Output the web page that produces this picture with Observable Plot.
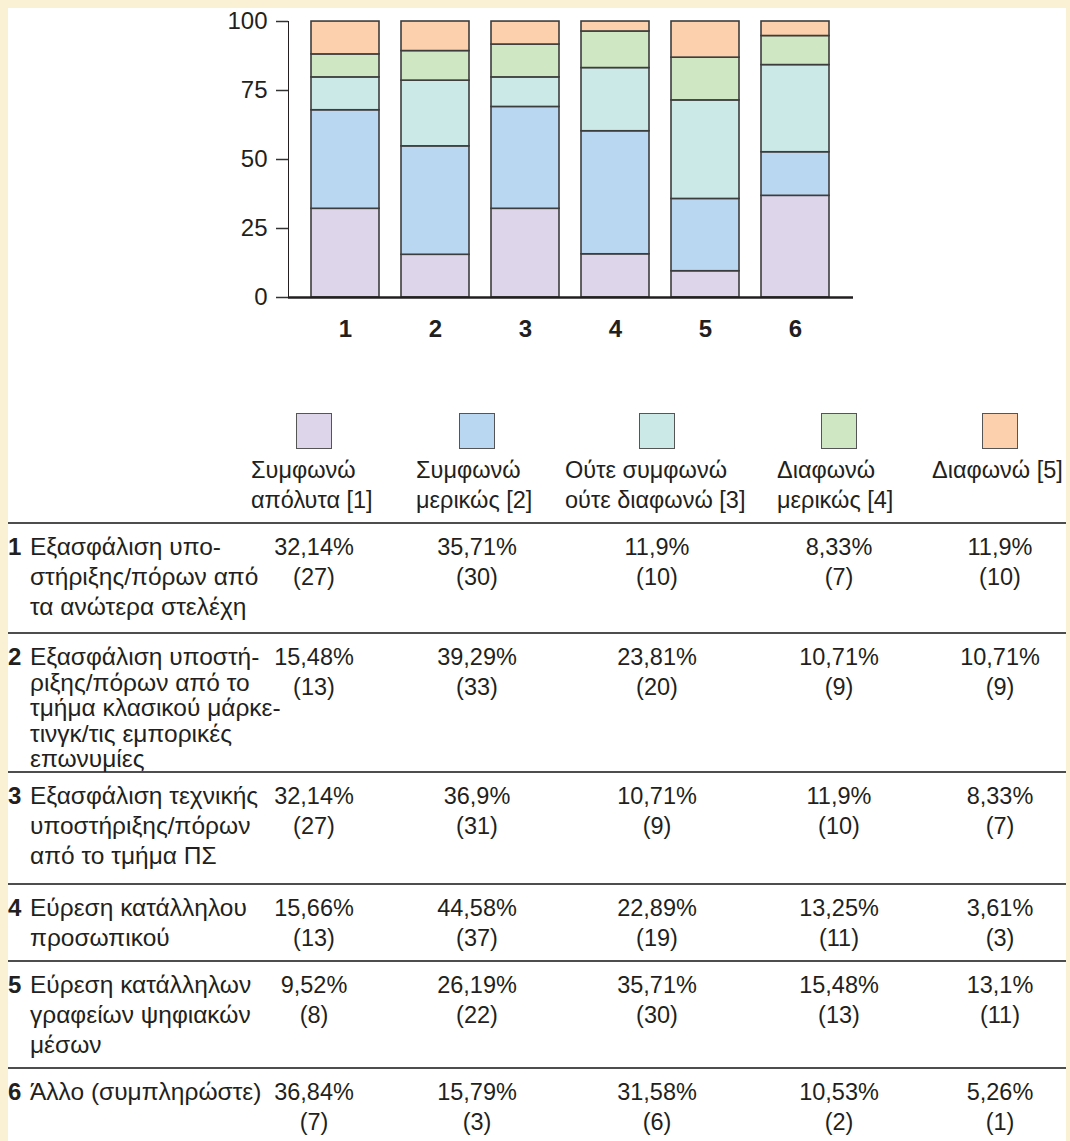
<!DOCTYPE html>
<html><head><meta charset="utf-8">
<script src="https://cdn.jsdelivr.net/npm/d3@7"></script>
<script src="https://cdn.jsdelivr.net/npm/@observablehq/plot@0.6"></script>
<style>
html,body{margin:0;padding:0;background:#faf0d3;}
body{width:1070px;height:1141px;position:relative;overflow:hidden;font-family:"Liberation Sans",Arial,sans-serif;color:#231f20;}
#card{position:absolute;left:8px;top:8px;width:1058px;height:1133px;background:#fff;}
#chart{position:absolute;left:0;top:0;}
#chart svg{overflow:visible;}
#chart g[aria-label="y-axis tick label"], #chart g[aria-label="y-axis tick label"] text{font-size:24px !important;fill:#231f20;}
#chart g[aria-label="x-axis tick label"], #chart g[aria-label="x-axis tick label"] text{font-size:24px !important;font-weight:bold;fill:#231f20;}
#chart g[aria-label="y-axis tick"]{stroke:#333;stroke-width:1.5px;}
.abs{position:absolute;white-space:pre;font-size:23.5px;line-height:30px;}
.lab{font-size:24.5px;}
.sq{position:absolute;box-sizing:border-box;border:1.5px solid #555;width:36px;height:36px;}
.sep{position:absolute;left:8px;width:1058px;height:2px;background:#4d4d4d;}
.num{font-weight:bold;font-size:24px;}
.val{text-align:center;width:160px;}
</style></head><body>
<div id="card"></div>
<div id="chart"></div>
<div id="below"></div>
<script>
// ---- data ----
const items = ["1", "2", "3", "4", "5", "6"];
const categories = ["Συμφωνώ απόλυτα [1]", "Συμφωνώ μερικώς [2]", "Ούτε συμφωνώ ούτε διαφωνώ [3]", "Διαφωνώ μερικώς [4]", "Διαφωνώ [5]"];
const categoryLines = [["Συμφωνώ", "απόλυτα [1]"], ["Συμφωνώ", "μερικώς [2]"], ["Ούτε συμφωνώ", "ούτε διαφωνώ [3]"], ["Διαφωνώ", "μερικώς [4]"], ["Διαφωνώ [5]"]];
const colors = ["#ddd5ea", "#b9d7f0", "#cae9e7", "#d0e7c3", "#fdd0ad"];
const yTicks = [0, 25, 50, 75, 100];
const itemLabels = [
  ["Εξασφάλιση υπο-", "στήριξης/πόρων από", "τα ανώτερα στελέχη"],
  ["Εξασφάλιση υποστή-", "ριξης/πόρων από το", "τμήμα κλασικού μάρκε-", "τινγκ/τις εμπορικές", "επωνυμίες"],
  ["Εξασφάλιση τεχνικής", "υποστήριξης/πόρων", "από το τμήμα ΠΣ"],
  ["Εύρεση κατάλληλου", "προσωπικού"],
  ["Εύρεση κατάλληλων", "γραφείων ψηφιακών", "μέσων"],
  ["Άλλο (συμπληρώστε)"]
];
const pct1 = [32.14, 15.48, 32.14, 15.66, 9.52, 36.84];
const pct2 = [35.71, 39.29, 36.9, 44.58, 26.19, 15.79];
const pct3 = [11.9, 23.81, 10.71, 22.89, 35.71, 31.58];
const pct4 = [8.33, 10.71, 11.9, 13.25, 15.48, 10.53];
const pct5 = [11.9, 10.71, 8.33, 3.61, 13.1, 5.26];
const cnt1 = [27, 13, 27, 13, 8, 7];
const cnt2 = [30, 33, 31, 37, 22, 3];
const cnt3 = [10, 20, 9, 19, 30, 6];
const cnt4 = [7, 9, 10, 11, 13, 2];
const cnt5 = [10, 9, 7, 3, 11, 1];

const pcts = [pct1, pct2, pct3, pct4, pct5];
const cnts = [cnt1, cnt2, cnt3, cnt4, cnt5];

const data = [];
items.forEach((it, i) => categories.forEach((c, j) => data.push({item: it, cat: c, value: pcts[j][i]})));

const chart = Plot.plot({
  width: 1070, height: 360,
  marginLeft: 288, marginRight: 217, marginTop: 21, marginBottom: 63,
  style: {fontFamily: "Liberation Sans, Arial, sans-serif", background: "transparent", color: "#231f20", fontSize: "24px"},
  x: {domain: items, paddingInner: 0.24, paddingOuter: 0.23, tickSize: 0, tickPadding: 22, label: null},
  y: {domain: [0, 100], ticks: yTicks, tickSize: 12, tickPadding: 9, line: true, label: null},
  color: {domain: categories, range: colors},
  marks: [
    Plot.barY(data, Plot.stackY({x: "item", y: "value", fill: "cat", stroke: "#3d3d3d", strokeWidth: 1.6})),
    Plot.ruleY([0], {stroke: "#231f20", strokeWidth: 2.5})
  ]
});
document.getElementById("chart").appendChild(chart);

// ---- legend + table ----
const below = document.getElementById("below");
const colX = [314, 477, 657, 839, 1000];
const legendLeft = [251, 416, 565, 777, 932];
function add(txt, cls, style) {
  const d = document.createElement("div");
  d.className = cls;
  Object.assign(d.style, style);
  d.textContent = txt;
  below.appendChild(d);
  return d;
}
categories.forEach((c, j) => {
  add("", "sq", {left: (colX[j] - 18) + "px", top: "413px", background: colors[j]});
  add(categoryLines[j].join("\n"), "abs", {left: legendLeft[j] + "px", top: "455px"});
});

const seps = [523, 633, 772, 884, 961, 1068];
const lineH = [30, 25.5, 30, 30, 30, 30];
seps.forEach(y => add("", "sep", {top: (y - 1) + "px"}));
const fmt = v => String(v).replace(".", ",") + "%";
items.forEach((it, i) => {
  const top = seps[i] + 9;
  const lh = lineH[i];
  const t0 = top + (30 - lh) / 2;
  add(it, "abs num", {left: "8px", top: t0 + "px", lineHeight: lh + "px"});
  add(itemLabels[i].join("\n"), "abs lab", {left: "30px", top: t0 + "px", lineHeight: lh + "px"});
  categories.forEach((c, j) => {
    add(fmt(pcts[j][i]) + "\n(" + cnts[j][i] + ")", "abs val", {left: (colX[j] - 80) + "px", top: top + "px", lineHeight: "30px"});
  });
});
</script>
</body></html>
